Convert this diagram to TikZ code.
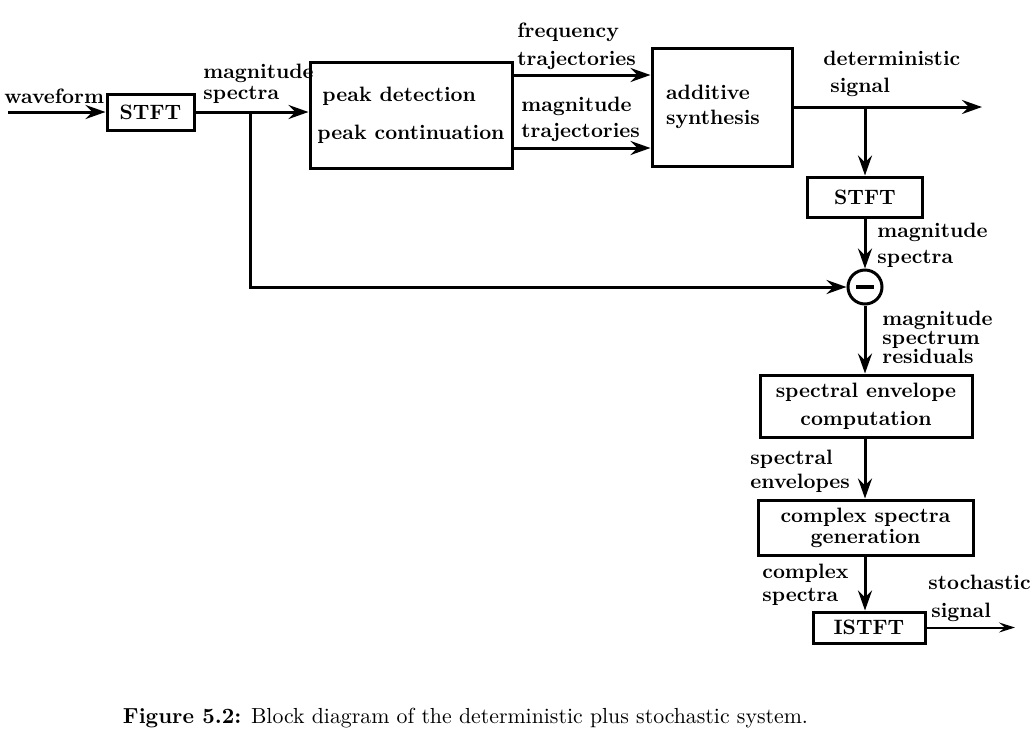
\documentclass[tikz,border=0pt]{standalone}
\usetikzlibrary{arrows.meta}
\newcommand\lfnt[1]{\fontsize{10.4}{#1}\selectfont\bfseries}
\begin{document}
\begin{tikzpicture}[x=0.5pt,y=-0.5pt,
  box/.style={draw, line width=1.5pt, inner sep=0pt, align=center},
  lbl/.style={inner sep=0pt, anchor=west, align=left},
  arr/.style={line width=1.5pt, -{Stealth[length=10pt,width=7pt,inset=3.5pt]}},
  thinarr/.style={line width=1pt, -{Stealth[length=8pt,width=5pt,inset=3pt]}},
  ln/.style={line width=1.5pt}]
\useasboundingbox (0,0) rectangle (1030,735);
% blocks
\node[box, minimum width=43.5pt, minimum height=18pt, font=\lfnt{12}] (stft1) at (150.5,112) {STFT};
\node[box, minimum width=101pt, minimum height=53pt, align=left, font=\lfnt{19}] (peak) at (411,115) {\hspace*{2.5pt}peak detection\\peak continuation};
\node[box, minimum width=70pt, minimum height=59pt, align=left, font=\lfnt{12.5}] (add) at (722,107) {additive\\synthesis\hspace*{9pt}};
\node[box, minimum width=57.5pt, minimum height=20pt, font=\lfnt{12}] (stft2) at (865,197) {STFT};
\node[draw, circle, line width=1.5pt, minimum size=17pt, inner sep=0pt] (mn) at (865,287) {};
\node[box, minimum width=106pt, minimum height=31pt, font=\lfnt{14}] (env) at (866,406) {spectral envelope\\computation};
\node[box, minimum width=107.5pt, minimum height=27.5pt, font=\lfnt{10.5}] (gen) at (865.5,527.5) {complex spectra\\generation};
\node[box, minimum width=56pt, minimum height=15.5pt, font=\lfnt{12}] (istft) at (869,627.5) {ISTFT};
\draw[line width=2pt] ([xshift=-4.5pt]mn.center) -- ([xshift=4.5pt]mn.center);
% labels
\node[lbl, font=\lfnt{12}] (lwave) at (4,96) {waveform};
\node[lbl, font=\lfnt{10.5}] (lmag1) at (203,83.5) {magnitude\\spectra};
\node[lbl, font=\lfnt{14}] (lfreq) at (517,46) {frequency\\trajectories};
\node[lbl, font=\lfnt{13}] (lmagt) at (521,119) {magnitude\\trajectories};
\node[lbl, font=\lfnt{13.5}] (ldet) at (823,73.5) {deterministic\\\hspace*{3.5pt}signal};
\node[lbl, font=\lfnt{13}] (lmag2) at (877,245) {magnitude\\spectra};
\node[lbl, font=\lfnt{9.5}] (lres) at (882,337) {magnitude\\spectrum\\residuals};
\node[lbl, font=\lfnt{12}] (lenv) at (750,471) {spectral\\envelopes};
\node[lbl, font=\lfnt{11.5}] (lcs) at (762,584.5) {complex\\spectra};
\node[lbl, font=\lfnt{14}] (lsto) at (928,598) {stochastic\\\hspace*{1.5pt}signal};
% coordinates
\coordinate (win) at (8,112);
\coordinate (br) at (250,112);
\coordinate (fy) at (0,75);
\coordinate (my) at (0,148);
\coordinate (dy) at (0,107);
\coordinate (db) at (865,107);
\coordinate (dout) at (982,107);
\coordinate (sout) at (1015,627.5);
% connectors
\draw[arr] (win) -- (stft1.west);
\draw[arr] (stft1.east) -- (stft1.east -| peak.west);
\draw[arr] (br) |- (mn.west);
\draw[arr] (peak.east |- fy) -- (add.west |- fy);
\draw[arr] (peak.east |- my) -- (add.west |- my);
\draw[arr] (add.east |- dy) -- (dout);
\draw[arr] (db) -- (db |- stft2.north);
\draw[arr] (stft2.south -| mn) -- (mn.north);
\draw[arr] (mn.south) -- (mn.south |- env.north);
\draw[arr] (env.south -| mn) -- (mn |- gen.north);
\draw[arr] (gen.south -| mn) -- (mn |- istft.north);
\draw[thinarr] (istft.east) -- (sout);
% caption
\node[inner sep=0pt, font=\fontsize{10.9}{13}\selectfont] (cap) at (465.5,718) {\textbf{Figure 5.2:} Block diagram of the deterministic plus stochastic system.};
\end{tikzpicture}
\end{document}
